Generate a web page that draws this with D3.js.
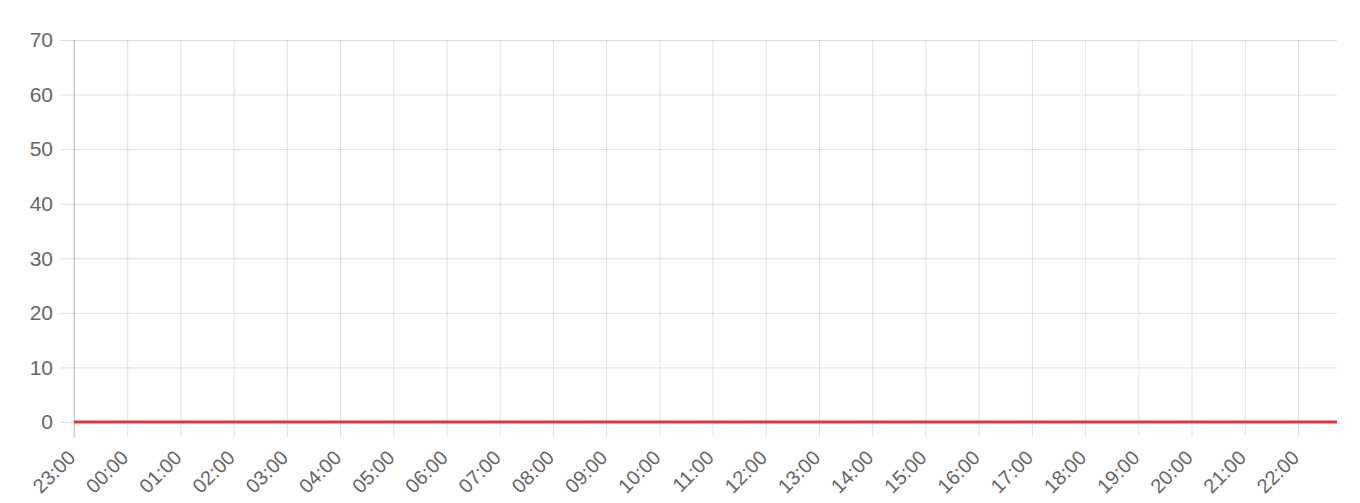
<!DOCTYPE html>
<html>
<head>
<meta charset="utf-8">
<script src="https://cdn.jsdelivr.net/npm/d3@7"></script>
<style>
  body { margin: 0; background: #fff; }
  svg { display: block; font-family: "Liberation Sans", Arial, sans-serif; }
</style>
</head>
<body>
<svg width="1360" height="503"></svg>
<script>
// readings, one per hour, last one just before the end of the window
var times = ["23:00", "00:00", "01:00", "02:00", "03:00", "04:00", "05:00", "06:00",
             "07:00", "08:00", "09:00", "10:00", "11:00", "12:00", "13:00", "14:00",
             "15:00", "16:00", "17:00", "18:00", "19:00", "20:00", "21:00", "22:00", "22:44"];
var values = [0, 0, 0, 0, 0, 0, 0, 0, 0, 0, 0, 0, 0, 0, 0, 0, 0, 0, 0, 0, 0, 0, 0, 0, 0];
var yTicks = [0, 10, 20, 30, 40, 50, 60, 70];

var svg = d3.select("svg"),
    margin = {top: 40, right: 23, bottom: 81, left: 74},
    width = +svg.attr("width"),
    height = +svg.attr("height");

// turn "HH:MM" into dates, rolling over midnight
var parse = d3.timeParse("%H:%M");
var prev = null, dayOffset = 0;
var data = times.map(function(t, i) {
  var d = parse(t);
  if (prev && d < prev) dayOffset += 1;
  prev = d;
  return {date: d3.timeDay.offset(d, dayOffset), value: values[i]};
});

var x = d3.scaleTime()
    .domain(d3.extent(data, function(d) { return d.date; }))
    .range([margin.left, width - margin.right]);

var y = d3.scaleLinear()
    .domain([0, 70])
    .range([height - margin.bottom, margin.top]);

var hourTicks = data.slice(0, 24).map(function(d) { return d.date; });
var gridColor = "rgba(0,0,0,0.12)";

// vertical grid + ticks below
var xg = svg.append("g")
    .attr("transform", "translate(0," + (height - margin.bottom) + ")")
    .call(d3.axisBottom(x)
      .tickValues(hourTicks)
      .tickFormat(d3.timeFormat("%H:%M"))
      .tickSizeOuter(0));
xg.select(".domain").remove();
xg.selectAll(".tick line")
    .attr("stroke", gridColor)
    .attr("y2", 15)
    .attr("y1", -(height - margin.bottom - margin.top));
xg.selectAll(".tick text")
    .attr("fill", "#666")
    .attr("font-size", 20)
    .attr("text-anchor", "end")
    .attr("dy", null)
    .attr("y", 0)
    .attr("transform", "translate(2,37) rotate(-45)");

// horizontal grid + left labels
var yg = svg.append("g")
    .attr("transform", "translate(" + margin.left + ",0)")
    .call(d3.axisLeft(y)
      .tickValues(yTicks)
      .tickSize(14)
      .tickPadding(7));
yg.select(".domain").remove();
yg.selectAll(".tick line")
    .attr("stroke", gridColor)
    .attr("x1", -14)
    .attr("x2", width - margin.right - margin.left);
yg.selectAll(".tick text")
    .attr("fill", "#666")
    .attr("font-size", 21);

// left axis line a bit stronger
svg.append("line")
    .attr("x1", margin.left).attr("x2", margin.left)
    .attr("y1", margin.top).attr("y2", height - margin.bottom + 15)
    .attr("stroke", "rgba(0,0,0,0.17)");

var line = d3.line()
    .x(function(d) { return x(d.date); })
    .y(function(d) { return y(d.value); });

svg.append("path")
    .datum(data)
    .attr("fill", "none")
    .attr("stroke", "#d9363e")
    .attr("stroke-width", 3)
    .attr("d", line);
</script>
</body>
</html>
